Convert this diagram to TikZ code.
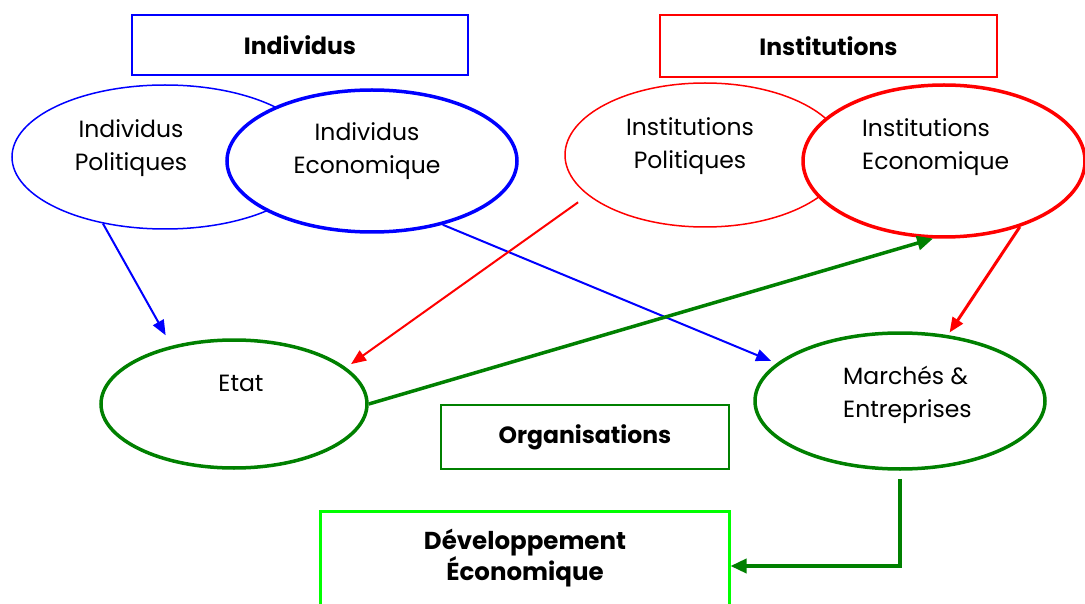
\documentclass[tikz,border=0pt]{standalone}
\usepackage{fontspec}
\setmainfont{Poppins}
\usetikzlibrary{shapes.geometric,arrows.meta}
\definecolor{dgreen}{RGB}{0,128,0}
\definecolor{lgreen}{RGB}{0,255,0}
\tikzset{
  boxnode/.style={draw, line width=1.5pt, inner sep=0pt, font=\fontsize{23.5}{31}\selectfont\bfseries},
  ell/.style={ellipse, draw, fill=white, inner sep=0pt},
  thinell/.style={ell, line width=1.5pt},
  thickell/.style={ell, line width=3.5pt},
  txt/.style={align=center, inner sep=0pt, font=\fontsize{23.5}{33}\selectfont},
  ltxt/.style={align=left, inner sep=0pt, anchor=west, font=\fontsize{23.5}{33}\selectfont},
  arr/.style={line width=2pt, -{Triangle[length=15pt,width=12pt]}},
  garr/.style={line width=3.5pt, draw=dgreen, -{Triangle[length=16pt,width=14pt]}, color=dgreen},
}
\begin{document}
\begin{tikzpicture}[x=1pt,y=-1pt]
\useasboundingbox (0,0) rectangle (1085,604);
\clip (0,0) rectangle (1085,604);
% title boxes
\node[boxnode, draw=blue, minimum width=336pt, minimum height=60pt] (indiv) at (300,45) {Individus};
\node[boxnode, draw=red, minimum width=337pt, minimum height=62pt] (instit) at (828.5,46) {Institutions};
% ellipses
\node[thinell, draw=blue, minimum width=306pt, minimum height=144pt] (IP) at (165,157) {};
\node[txt] (IPt) at (131,148) {Individus\\Politiques};
\node[thickell, draw=blue, minimum width=290pt, minimum height=142pt] (IE) at (372,161) {};
\node[txt] (IEt) at (367,151) {Individus\\Economique};
\node[thinell, draw=red, minimum width=280pt, minimum height=144pt] (InP) at (705,155) {};
\node[txt] (InPt) at (690,146) {Institutions\\Politiques};
\node[thickell, draw=red, minimum width=282pt, minimum height=152pt] (InE) at (944,161) {};
\node[ltxt] (InEt) at (862,147) {Institutions\\Economique};
\node[thickell, draw=dgreen, minimum width=266pt, minimum height=128pt] (Etat) at (234,404) {};
\node[txt] (Etatt) at (241,383) {Etat};
\node[thickell, draw=dgreen, minimum width=290pt, minimum height=136pt] (M) at (900,401) {};
\node[ltxt] (Mt) at (843,395) {Marchés \&\\Entreprises};
% lower boxes
\node[boxnode, draw=dgreen, minimum width=288pt, minimum height=64pt] (org) at (585,437) {Organisations};
\node[draw=lgreen, line width=3pt, minimum width=409pt, minimum height=110pt, inner sep=0pt] (dev) at (524.5,566) {};
\node[align=center, inner sep=0pt, font=\fontsize{24.5}{31}\selectfont\bfseries] (devt) at (525,558) {Développement\\Économique};
% connectors
\draw[arr, blue, shorten >=12pt] (IP.227.6) -- (Etat.137.5);
\draw[arr, blue, shorten >=6pt] (IE.318) -- (M.163.3);
\draw[arr, red, shorten <=12pt, shorten >=6pt] (InP.199.8) -- (Etat.18.6);
\draw[arr, red, line width=3pt, shorten >=3pt] (InE.319.5) -- (M.54.5);
\draw[garr] (Etat.east) -- (InE.262);
\draw[garr] ([yshift=-8pt]M.south) |- (dev.east);
\end{tikzpicture}
\end{document}
